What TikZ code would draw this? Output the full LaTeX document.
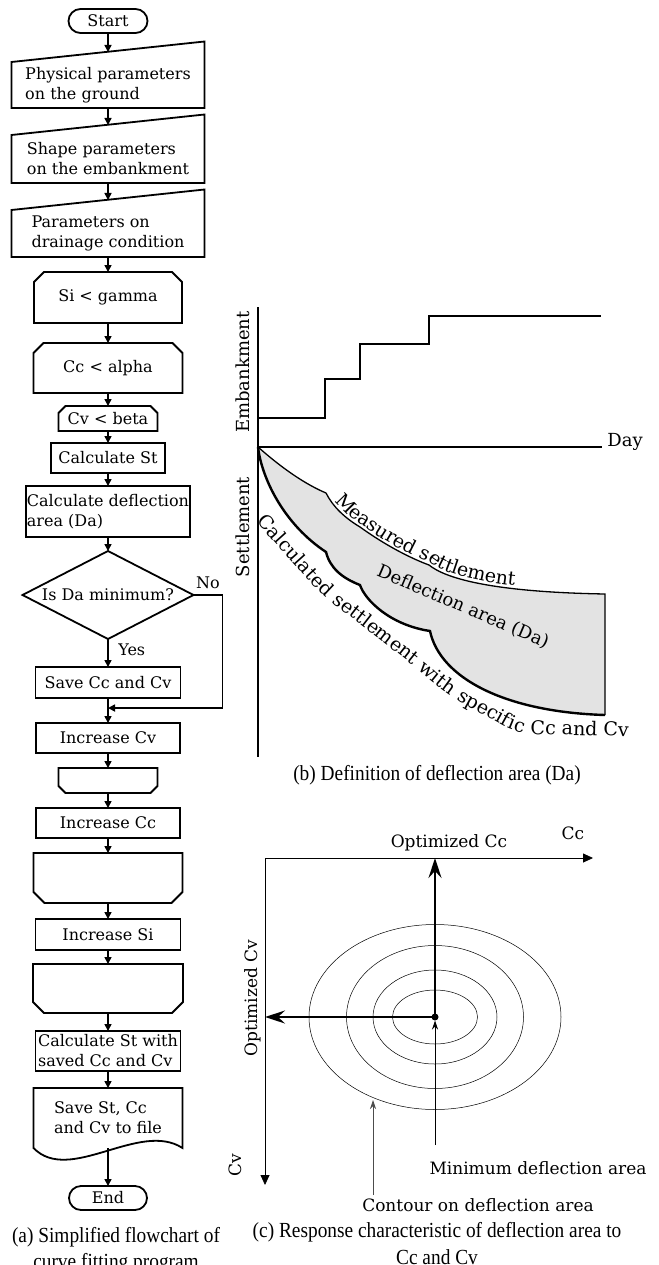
\documentclass[tikz,border=0pt]{standalone}
\usepackage{fontspec}
\setmainfont{DejaVu Serif}
\newfontfamily\capfont[FakeStretch=0.9]{Liberation Serif}
\usetikzlibrary{arrows.meta,shapes.geometric,shapes.misc,positioning,decorations.text,calc}

\newcommand{\fcsize}{\fontsize{16pt}{20pt}\selectfont}
\newcommand{\plotsize}{\fontsize{18pt}{22pt}\selectfont}
\newcommand{\curvesize}{\fontsize{19pt}{22pt}\selectfont}
\newcommand{\optsize}{\fontsize{17pt}{20pt}\selectfont}
\newcommand{\capsize}{\capfont\fontsize{21.5pt}{26.5pt}\selectfont}

% outlines of the flowchart symbols
\newcommand{\manualin}[1]{\draw[outline] (#1.south west) -- (#1.south east) -- ([yshift=20.5pt]#1.north east) -- (#1.north west) -- cycle;}
\newcommand{\looptop}[2]{\draw[outline] (#1.south west) -- ([yshift=-#2]#1.north west) -- ([xshift=#2]#1.north west) -- ([xshift=-#2]#1.north east) -- ([yshift=-#2]#1.north east) -- (#1.south east) -- cycle;}
\newcommand{\loopbot}[2]{\draw[outline] (#1.north west) -- (#1.north east) -- ([yshift=#2]#1.south east) -- ([xshift=-#2]#1.south east) -- ([xshift=#2]#1.south west) -- ([yshift=#2]#1.south west) -- cycle;}
\newcommand{\docshape}[1]{\draw[outline] (#1.south west) -- (#1.north west) -- (#1.north east) -- (#1.south east) .. controls +(-43pt,28pt) and +(36pt,-37pt) .. (#1.south west) -- cycle;}

% settlement curves
\def\measpath{(258,447) .. controls (275,462) and (300,482) .. (326,493) .. controls (333,507) and (345,518) .. (360,527) .. controls (385,545) and (410,558) .. (429,565) .. controls (445,578) and (490,592) .. (605,594)}
\def\calcpath{(258,447) .. controls (262,480) and (285,525) .. (326,552) .. controls (330,568) and (342,578) .. (360,585) .. controls (365,600) and (390,625) .. (430,631) .. controls (440,678) and (505,712) .. (605,715)}
\def\calcback{(605,715) .. controls (505,712) and (440,678) .. (430,631) .. controls (390,625) and (365,600) .. (360,585) .. controls (342,578) and (330,568) .. (326,552) .. controls (285,525) and (262,480) .. (258,447)}

\begin{document}
\begin{tikzpicture}[x=1pt, y=-1pt, font=\fcsize, outer sep=0pt,
  outline/.style={line width=1.8pt},
  arrow/.style={-{Triangle[length=7pt,width=7pt]}, line width=1.6pt},
  term/.style={rounded rectangle, draw, line width=1.8pt, minimum height=24pt, inner sep=0pt, outer sep=0pt},
  procbox/.style={rectangle, draw, line width=1.8pt, inner sep=0pt, outer sep=0pt},
  inbox/.style={rectangle, inner sep=0pt, outer sep=0pt, minimum width=193pt, align=left},
  loopbox/.style={rectangle, inner sep=0pt, outer sep=0pt},
  decide/.style={diamond, draw, line width=1.8pt, aspect=1.94, inner sep=0pt, outer sep=0pt, minimum width=171pt, minimum height=88pt},
  plotline/.style={line width=1.3pt},
  axisc/.style={-{Triangle[length=10pt,width=9pt]}, line width=0.8pt},
  bigarrow/.style={-{Stealth[length=20pt,width=13pt,inset=7pt]}, line width=2pt},
  pointer/.style={-{Stealth[length=9pt,width=6pt]}, line width=0.8pt},
  contour/.style={line width=0.5pt},
  caption/.style={font=\capsize, align=center}
]
\useasboundingbox (0,0) rectangle (658,1265);

% (a) flowchart
\node[term, minimum width=79pt] (start) at (108,21) {Start};
\node[inbox, minimum height=46pt, below=29pt of start] (phys) {Physical parameters\\on the ground};
\node[inbox, minimum height=48pt, below=27pt of phys] (shape) {Shape parameters\\on the embankment};
\node[inbox, minimum height=47pt, below=27pt of shape] (drain) {Parameters on\\drainage condition};
\node[loopbox, minimum width=148pt, minimum height=51pt, below=15pt of drain] (loopsi) {Si < gamma};
\node[loopbox, minimum width=149pt, minimum height=50pt, below=20pt of loopsi] (loopcc) {Cc < alpha};
\node[loopbox, minimum width=99pt, minimum height=25pt, below=13pt of loopcc] (loopcv) {Cv < beta};
\node[procbox, minimum width=114pt, minimum height=30pt, below=12pt of loopcv] (calcst) {Calculate St};
\node[procbox, minimum width=164pt, minimum height=51pt, align=left, below=13pt of calcst] (calcda) {Calculate deflection\\area (Da)};
\node[decide, below=14pt of calcda] (check) {Is Da minimum?};
\node[procbox, minimum width=145pt, minimum height=31pt, below=28pt of check] (savecv) {Save Cc and Cv};
\node[procbox, minimum width=144pt, minimum height=30pt, below=25pt of savecv] (inccv) {Increase Cv};
\node[loopbox, minimum width=99pt, minimum height=25pt, below=15pt of inccv] (endcv) {};
\node[procbox, minimum width=144pt, minimum height=30pt, below=15pt of endcv] (inccc) {Increase Cc};
\node[loopbox, minimum width=149pt, minimum height=50pt, below=15pt of inccc] (endcc) {};
\node[procbox, minimum width=145pt, minimum height=31pt, below=16pt of endcc] (incsi) {Increase Si};
\node[loopbox, minimum width=150pt, minimum height=49pt, below=14pt of incsi] (endsi) {};
\node[procbox, minimum width=145pt, minimum height=40pt, align=left, below=18pt of endsi] (calcfin) {Calculate St with\\saved Cc and Cv};
\node[inbox, minimum width=149pt, minimum height=60pt, below=17pt of calcfin] (savefile) {Save St, Cc\\and Cv to file};
\node[term, minimum width=78pt, below=38pt of savefile] (stop) {End};

\manualin{phys} \manualin{shape} \manualin{drain}
\looptop{loopsi}{10pt} \looptop{loopcc}{10pt} \looptop{loopcv}{7pt}
\loopbot{endcv}{7pt} \loopbot{endcc}{11pt} \loopbot{endsi}{11pt}
\docshape{savefile}

\draw[arrow] (start) -- ([yshift=10pt]phys.north);
\draw[arrow] (phys) -- ([yshift=10pt]shape.north);
\draw[arrow] (shape) -- ([yshift=10pt]drain.north);
\draw[arrow] (drain) -- (loopsi);
\draw[arrow] (loopsi) -- (loopcc);
\draw[arrow] (loopcc) -- (loopcv);
\draw[arrow] (loopcv) -- (calcst);
\draw[arrow] (calcst) -- (calcda);
\draw[arrow] (calcda) -- (check);
\draw[arrow] (check) -- node[right=7pt, pos=0.4] (yeslab) {Yes} (savecv);
\coordinate (join) at ([yshift=-10pt]savecv.south);
\draw[arrow] (check.east) -- node[above=3pt] (nolab) {No} ++(29pt,0) |- (join);
\draw[arrow] (savecv) -- (inccv);
\draw[arrow] (inccv) -- (endcv);
\draw[arrow] (endcv) -- (inccc);
\draw[arrow] (inccc) -- (endcc);
\draw[arrow] (endcc) -- (incsi);
\draw[arrow] (incsi) -- (endsi);
\draw[arrow] (endsi) -- (calcfin);
\draw[arrow] (calcfin) -- (savefile);
\draw[arrow] (savefile) -- (stop);

\node[caption] (capa) at (116,1250) {(a) Simplified flowchart of\\curve fitting program};

% (b) deflection area
\fill[gray!22] \measpath -- \calcback -- cycle;
\draw[plotline] (258,307) -- (258,757);
\draw[plotline] (258,447) -- (602,447);
\draw[plotline] (258,418) -| (325,379) -| (360,344) -| (429,316) -- (601,316);
\draw[plotline] \measpath -- (605,715);
\draw[line width=2.4pt] \calcpath;
\node[font=\plotsize] (daylab) at (625,442) {Day};
\node[font=\plotsize, rotate=90] (emblab) at (243,372) {Embankment};
\node[font=\plotsize, rotate=90] (setlab) at (243,527) {Settlement};
\node[font=\plotsize, rotate=-23] (dalab) at (463,607) {Deflection area (Da)};
\path[decorate, decoration={text along path, text={|\curvesize|Measured settlement}, text align={left indent=12pt}, raise=3pt}]
  (326,493) .. controls (333,507) and (345,518) .. (360,527) .. controls (385,545) and (410,558) .. (429,565) .. controls (445,578) and (490,592) .. (605,594) -- (660,595);
\path[decorate, decoration={text along path, text={|\curvesize|Calculated settlement with specific Cc and Cv}, text align={left indent=10pt}, raise=-6pt}, rounded corners=15pt]
  (254,510) -- (326,590) -- (412,657) -- (455,692) -- (520,728) -- (690,732);
\node[caption] (capb) at (437,775) {(b) Definition of deflection area (Da)};

% (c) response characteristic
\coordinate (corner) at (265,858);
\coordinate (ccend) at (593,858);
\coordinate (cvend) at (265,1185);
\draw[axisc] (corner) -- (ccend);
\draw[axisc] (corner) -- (cvend);
\node[circle, fill, inner sep=0pt, minimum size=7pt] (opt) at (435,1017) {};
\foreach \rx/\ry in {42.5/27, 62/47, 88.5/71.5, 126/92.5}
  \draw[contour] (opt) ellipse [x radius=\rx pt, y radius=\ry pt];
\draw[bigarrow] (opt) -- (opt |- corner);
\draw[bigarrow] (opt) -- (opt -| corner);
\node[font=\optsize] (cclab) at (573,833) {Cc};
\node[font=\optsize] (optcc) at (449,843) {Optimized Cc};
\node[font=\optsize, rotate=90] (optcv) at (253,998) {Optimized Cv};
\node[font=\optsize, rotate=90] (cvlab) at (235,1165) {Cv};
\coordinate (minfoot) at (435,1145);
\draw[pointer] (minfoot) -- (opt);
\node[font=\optsize] (minlab) at (538,1168) {Minimum deflection area};
\coordinate (contfoot) at (373,1195);
\coordinate (conttip) at (373,1100);
\draw[pointer, black!70] (contfoot) -- (conttip);
\node[font=\optsize] (contlab) at (478,1205) {Contour on deflection area};
\node[caption] (capc) at (437,1243.5) {(c) Response characteristic of deflection area to\\Cc and Cv};
\end{tikzpicture}
\end{document}
